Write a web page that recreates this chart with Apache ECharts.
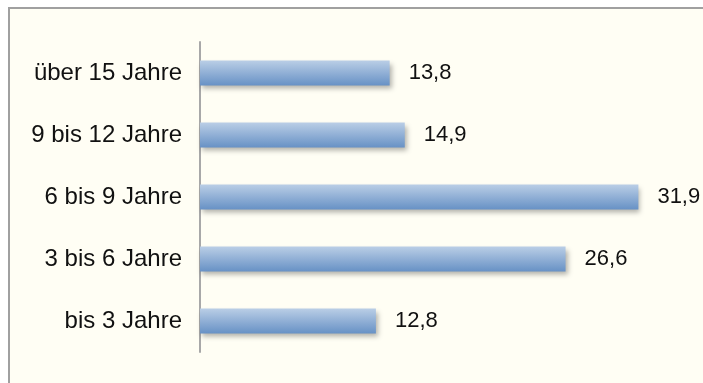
<!DOCTYPE html>
<html>
<head>
<meta charset="utf-8">
<script src="https://cdn.jsdelivr.net/npm/echarts@6/dist/echarts.min.js"></script>
<style>
html,body{margin:0;padding:0;background:#ffffff;}
#chart{width:703px;height:383px;}
</style>
</head>
<body>
<div id="chart"></div>
<script>
var categories = ['bis 3 Jahre', '3 bis 6 Jahre', '6 bis 9 Jahre', '9 bis 12 Jahre', 'über 15 Jahre'];
var values = [12.8, 26.6, 31.9, 14.9, 13.8];

var chart = echarts.init(document.getElementById('chart'));
chart.setOption({
  backgroundColor: '#ffffff',
  animation: false,
  graphic: [{
    type: 'rect',
    z: -10,
    silent: true,
    shape: { x: 9, y: 8, width: 800, height: 500 },
    style: { fill: '#fffef4', stroke: '#a0a0a0', lineWidth: 2 }
  }],
  grid: { left: 200, top: 42, width: 481, height: 310 },
  xAxis: {
    type: 'value', min: 0, max: 35, show: false
  },
  yAxis: {
    type: 'category',
    data: categories,
    axisLine: { show: true, lineStyle: { color: '#a8a8a8', width: 2 } },
    axisTick: { show: false },
    axisLabel: {
      color: '#111', fontFamily: 'Liberation Sans', fontSize: 24, margin: 18,
      padding: [5, 0, 0, 0]
    },
    splitLine: { show: false }
  },
  series: [{
    type: 'bar',
    data: values,
    barWidth: 25,
    itemStyle: {
      color: new echarts.graphic.LinearGradient(0, 0, 0, 1, [
        { offset: 0, color: '#bacee6' },
        { offset: 1, color: '#6791c5' }
      ]),
      shadowColor: 'rgba(0,0,0,0.3)',
      shadowBlur: 5,
      shadowOffsetX: 2,
      shadowOffsetY: 3
    },
    label: {
      show: true,
      position: 'right',
      distance: 19,
      color: '#111',
      fontFamily: 'Liberation Sans',
      fontSize: 22,
      padding: [5, 0, 0, 0],
      formatter: function (p) { return String(p.value).replace('.', ','); }
    }
  }]
});
</script>
</body>
</html>
